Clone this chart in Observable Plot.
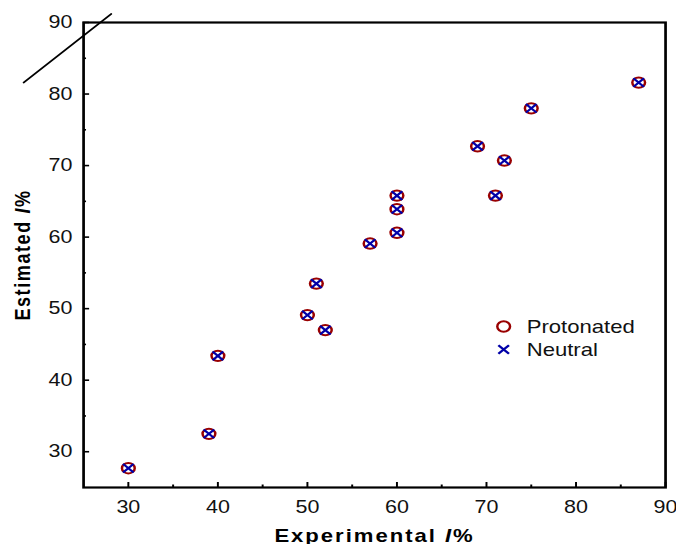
<!DOCTYPE html>
<html><head><meta charset="utf-8">
<script src="https://cdn.jsdelivr.net/npm/d3@7"></script>
<script src="https://cdn.jsdelivr.net/npm/@observablehq/plot@0.6"></script>
<style>
html,body{margin:0;padding:0;background:#fff;}
#chart svg{display:block;}
</style>
</head><body><div id="chart"></div>
<script>
// ---- data ----
const experimental = [30, 39, 40, 50, 51, 52, 57, 60, 60, 60, 69, 71, 72, 75, 87];
const protonated   = [27.7, 32.5, 43.4, 49.1, 53.5, 47.0, 59.1, 60.6, 63.9, 65.8, 72.7, 65.8, 70.7, 78.0, 81.6];
const neutral      = [27.7, 32.5, 43.4, 49.1, 53.5, 47.0, 59.1, 60.6, 63.9, 65.8, 72.7, 65.8, 70.7, 78.0, 81.6];
const refLineX = [18.3, 28.1];
const refLineY = [81.6, 91.2];
const majorTicks = [30, 40, 50, 60, 70, 80, 90];
const minorTicks = [35, 45, 55, 65, 75, 85];
const seriesNames = ["Protonated", "Neutral"];
const xTitle = ["Experimental ", "I", "%"];
const yTitle = ["Estimated ", "I", "%"];

// ---- layout ----
const W0 = 550, H = 544, S = 676 / W0;
const mL = 67.5, mR = 9, mT = 22, mB = 57;
const innerW = W0 - mL - mR, innerH = H - mT - mB;
const font = '"Liberation Sans", Arial, Helvetica, sans-serif';
const red = "#990000", blue = "#0000a8";

const protTable = experimental.map((x, i) => ({x, y: protonated[i]}));
const neutTable = experimental.map((x, i) => ({x, y: neutral[i]}));
const refTable = refLineX.map((x, i) => ({x, y: refLineY[i]}));

const plot = Plot.plot({
  width: W0, height: H,
  marginLeft: mL, marginRight: mR, marginTop: mT, marginBottom: mB,
  style: {fontFamily: font, background: "#fff", overflow: "visible", color: "#111"},
  x: {domain: [25, 90]},
  y: {domain: [25, 90]},
  marks: [
    Plot.axisX(majorTicks, {tickSize: 0, tickPadding: 13, fontSize: 17.5, fill: "#111", label: null}),
    Plot.axisY(majorTicks, {tickSize: 0, tickPadding: 9, fontSize: 17.5, fill: "#111", label: null}),
    Plot.ruleX(majorTicks, {insetTop: innerH - 5, stroke: "#000", strokeWidth: 1.6}),
    Plot.ruleX(minorTicks, {insetTop: innerH - 2.5, stroke: "#000", strokeWidth: 1.6}),
    Plot.ruleY(majorTicks, {insetRight: innerW - 5, stroke: "#000", strokeWidth: 1.6}),
    Plot.ruleY(minorTicks, {insetRight: innerW - 2.5, stroke: "#000", strokeWidth: 1.6}),
    Plot.frame({stroke: "#000", strokeWidth: 2.2}),
    Plot.line(refTable, {x: "x", y: "y", stroke: "#000", strokeWidth: 1.5}),
    Plot.dot(protTable, {x: "x", y: "y", symbol: "circle", r: 5.2, stroke: red, strokeWidth: 2, fill: "none"}),
    Plot.dot(neutTable, {x: "x", y: "y", symbol: "times", r: 4, stroke: blue, strokeWidth: 2}),
    // legend
    Plot.dot([seriesNames[0]], {frameAnchor: "top-left", dx: 341.8, dy: 304, symbol: "circle", r: 5.2, stroke: red, strokeWidth: 2, fill: "none"}),
    Plot.dot([seriesNames[1]], {frameAnchor: "top-left", dx: 341.8, dy: 327, symbol: "times", r: 4, stroke: blue, strokeWidth: 2}),
    Plot.text([seriesNames[0]], {frameAnchor: "top-left", dx: 360.5, dy: 305, text: d => d, textAnchor: "start", lineAnchor: "middle", fontSize: 18, fill: "#111"}),
    Plot.text([seriesNames[1]], {frameAnchor: "top-left", dx: 360.5, dy: 328, text: d => d, textAnchor: "start", lineAnchor: "middle", fontSize: 18, fill: "#111"}),
    // axis titles
    Plot.text([xTitle.join("")], {frameAnchor: "bottom", dy: 49, text: d => d, textAnchor: "middle", lineAnchor: "middle", fontSize: 18, fontWeight: "bold", fill: "#000", className: "xtitle"}),
    Plot.text([yTitle.join("")], {frameAnchor: "left", dx: -49, rotate: -90, text: d => d, textAnchor: "middle", lineAnchor: "middle", fontSize: 18, fontWeight: "bold", fill: "#000", className: "ytitle"})
  ]
});

function styleTitle(sel, parts) {
  const t = d3.select(plot).select(sel + " text");
  if (t.empty()) return;
  t.text(null).attr("letter-spacing", "1.6").attr("text-anchor", "middle");
  parts.forEach((p, i) => {
    const ts = t.append("tspan").text(p);
    if (i === 1) ts.attr("font-style", "italic");
  });
}
styleTitle("g.xtitle", xTitle);
styleTitle("g.ytitle", yTitle);

plot.setAttribute("preserveAspectRatio", "none");
plot.setAttribute("width", 676);
plot.setAttribute("height", H);
plot.style.width = "676px";
plot.style.height = H + "px";
plot.style.maxWidth = "none";
document.getElementById("chart").appendChild(plot);
</script>
</body></html>
